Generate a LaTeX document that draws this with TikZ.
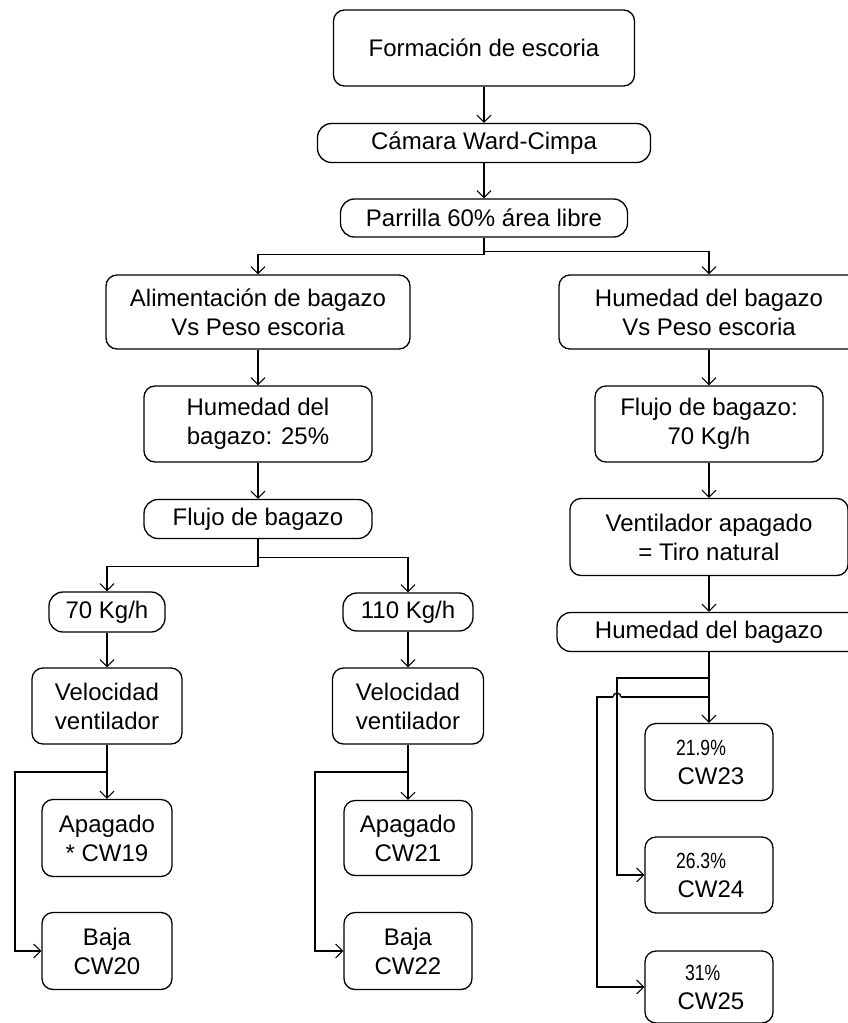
\documentclass[tikz,border=0pt]{standalone}
\usepackage{fontspec}
\usepackage{graphicx}
\setmainfont{Liberation Sans}
\usetikzlibrary{arrows.meta}
% narrow figure for the moisture percentages
\newcommand\pctlabel[1]{{\fontsize{22}{24}\selectfont\scalebox{0.8}[1]{#1}}}
\begin{document}
\begin{tikzpicture}[x=1pt,y=-1pt,
  box/.style={draw, line width=1.3pt, rounded corners=11pt, align=center,
              inner sep=0pt, font=\fontsize{24}{29}\selectfont},
  pill/.style={box, rounded corners=14pt},
  wire/.style={line width=1.3pt},
  arr/.style={wire, -{Straight Barb[length=7pt,width=14pt,line width=1.1pt]}}
]
\path[use as bounding box] (0,0) rectangle (848,1023);
\clip (0,0) rectangle (848,1023);
\fill[white] (0,0) rectangle (848,1023);

% top of the chart
\node[box,  minimum width=301pt, minimum height=76pt] (form)     at (484,48)  {Formación de escoria};
\node[pill, minimum width=333pt, minimum height=39pt] (camara)   at (484,143) {Cámara Ward-Cimpa};
\node[pill, minimum width=287pt, minimum height=38pt] (parrilla) at (484,218) {Parrilla 60\% área libre};

% left branch
\node[box,  minimum width=304pt, minimum height=74pt] (alim)   at (258,312) {Alimentación de bagazo\\Vs Peso escoria};
\node[box,  minimum width=228pt, minimum height=76pt] (hum25)  at (258,424) {Humedad del\\bagazo: 25\%};
\node[pill, minimum width=228pt, minimum height=39pt] (flujoL) at (258,519) {Flujo de bagazo};

\node[pill, minimum width=116pt, minimum height=40pt] (k70)  at (107,612) {70 Kg/h};
\node[pill, minimum width=130pt, minimum height=38pt] (k110) at (408,612) {110 Kg/h};

\node[box, minimum width=150pt, minimum height=76pt] (velL) at (107,706) {Velocidad\\ventilador};
\node[box, minimum width=151pt, minimum height=76pt] (velR) at (408,706) {Velocidad\\ventilador};

\node[box, minimum width=130pt, minimum height=77pt] (apL)   at (107,838) {Apagado\\* CW19};
\node[box, minimum width=130pt, minimum height=77pt] (bajaL) at (107,951) {Baja\\CW20};
\node[box, minimum width=128pt, minimum height=75pt] (apR)   at (408,838) {Apagado\\CW21};
\node[box, minimum width=128pt, minimum height=77pt] (bajaR) at (408,951) {Baja\\CW22};

% right branch
\node[box,  minimum width=300pt, minimum height=74pt] (humR1)  at (709,312) {Humedad del bagazo\\Vs Peso escoria};
\node[box,  minimum width=228pt, minimum height=76pt] (flujoR) at (709,424) {Flujo de bagazo:\\70 Kg/h};
\node[box,  minimum width=278pt, minimum height=77pt] (vent)   at (709,537) {Ventilador apagado\\= Tiro natural};
\node[pill, minimum width=304pt, minimum height=39pt] (humR2)  at (709,632) {Humedad del bagazo};

\node[box, minimum width=128pt, minimum height=77pt] (cw23) at (709,762)
  {\makebox[66pt][l]{\pctlabel{21.9\%}}\\\hspace*{4pt}CW23};
\node[box, minimum width=128pt, minimum height=76pt] (cw24) at (709,875)
  {\makebox[66pt][l]{\pctlabel{26.3\%}}\\\hspace*{4pt}CW24};
\node[box, minimum width=128pt, minimum height=72pt] (cw25) at (709,987)
  {\makebox[66pt][l]{\hspace*{9pt}\pctlabel{31\%}}\\\hspace*{4pt}CW25};

% bend points of the side connectors
\coordinate (jl)  at (15,772);
\coordinate (jr)  at (315,772);
\coordinate (ja)  at (617,678);
\coordinate (jx)  at (621,697);  % start of the hop over the CW24 line
\coordinate (jy)  at (613,697);  % end of the hop
\coordinate (jb)  at (597,697);

% connectors
\draw[arr] (form.south) -- (camara.north);
\draw[arr] (camara.south) -- (parrilla.north);
\draw[arr] (parrilla.south) -- ++(0,17) -| (alim.north);
\draw[arr] (parrilla.south) -- ++(0,14) -| (humR1.north);

\draw[arr] (alim.south) -- (hum25.north);
\draw[arr] (hum25.south) -- (flujoL.north);
\draw[arr] (flujoL.south) -- ++(0,27) -| (k70.north);
\draw[arr] (flujoL.south) -- ++(0,18) -| (k110.north);
\draw[arr] (k70.south) -- (velL.north);
\draw[arr] (k110.south) -- (velR.north);
\draw[arr] (velL.south) -- (apL.north);
\draw[arr] (velL.south) |- (jl) |- (bajaL.west);
\draw[arr] (velR.south) -- (apR.north);
\draw[arr] (velR.south) |- (jr) |- (bajaR.west);

\draw[arr] (humR1.south) -- (flujoR.north);
\draw[arr] (flujoR.south) -- (vent.north);
\draw[arr] (vent.south) -- (humR2.north);
\draw[arr] (humR2.south) -- (cw23.north);
\draw[arr] (humR2.south) |- (ja) |- (cw24.west);
% the CW25 line hops over the CW24 line
\draw[wire] (humR2.south) |- (jx);
\draw[wire] (jx) arc[start angle=0, end angle=180, radius=4pt];
\draw[arr] (jy) -- (jb) |- (cw25.west);
\end{tikzpicture}
\end{document}
